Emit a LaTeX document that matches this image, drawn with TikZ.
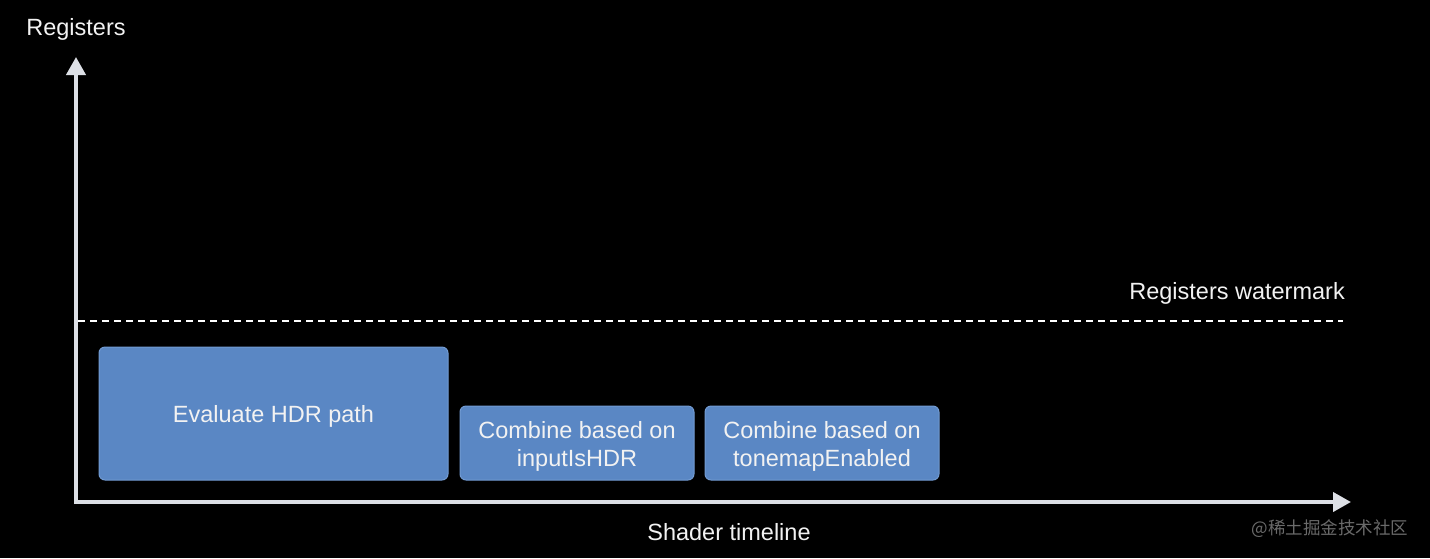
\documentclass[tikz,border=0pt]{standalone}
\usepackage{fontspec}
\setmainfont{Liberation Sans}
\newfontfamily\cjkfont{Noto Sans CJK SC}
\usetikzlibrary{arrows.meta}
\definecolor{axisgrey}{HTML}{DDE0E6}
\definecolor{boxblue}{HTML}{5A87C4}
\definecolor{boxedge}{HTML}{729BD2}
\definecolor{txtwhite}{HTML}{F2F2F2}
\definecolor{wmgrey}{HTML}{6A6A6A}
\tikzset{
  lbl/.style={text=txtwhite, font=\fontsize{23.5}{28}\selectfont, inner sep=0pt, align=center},
  blk/.style={rounded corners=6pt, fill=boxblue, draw=boxedge, line width=1pt, inner sep=0pt},
  axis/.style={draw=axisgrey, line width=4pt, -{Triangle[width=19pt,length=18pt]}},
}
\begin{document}
\begin{tikzpicture}[x=1pt,y=-1pt]
\fill[black] (0,0) rectangle (1430,558);
\useasboundingbox (0,0) rectangle (1430,558);
% axes
\coordinate (origin) at (76,502);
\coordinate (ytip) at (76,57);
\coordinate (xtip) at (1351,502);
\draw[axis] ([yshift=-2pt]origin) -- (ytip);
\draw[axis] ([xshift=-2pt]origin) -- (xtip);
% labels
\node[lbl] (ylabel) at (76,29) {Registers};
\node[lbl] (xlabel) at (729,532) {Shader timeline};
\node[lbl, anchor=east] (wmlabel) at (1345,293) {Registers watermark};
% watermark line
\coordinate (wmstart) at (78,321);
\coordinate (wmend) at (1343,321);
\draw[white, line width=2pt, dash pattern=on 7pt off 5pt] (wmstart) -- (wmend);
% blocks
\node[blk, minimum width=349pt, minimum height=133pt] (hdr) at (273.5,413.5) {};
\node[lbl] (hdrtext) at (273.5,416.5) {Evaluate HDR path};
\node[blk, minimum width=234pt, minimum height=74pt] (comb1) at (577,443) {};
\node[lbl] (comb1text) at (577,446) {Combine based on\\inputIsHDR};
\node[blk, minimum width=234pt, minimum height=74pt] (comb2) at (822,443) {};
\node[lbl] (comb2text) at (822,446) {Combine based on\\tonemapEnabled};
% site watermark
\node[text=wmgrey, font=\cjkfont\fontsize{17.5}{20}\selectfont, inner sep=0pt] (site) at (1330,529) {@稀土掘金技术社区};
\end{tikzpicture}
\end{document}
